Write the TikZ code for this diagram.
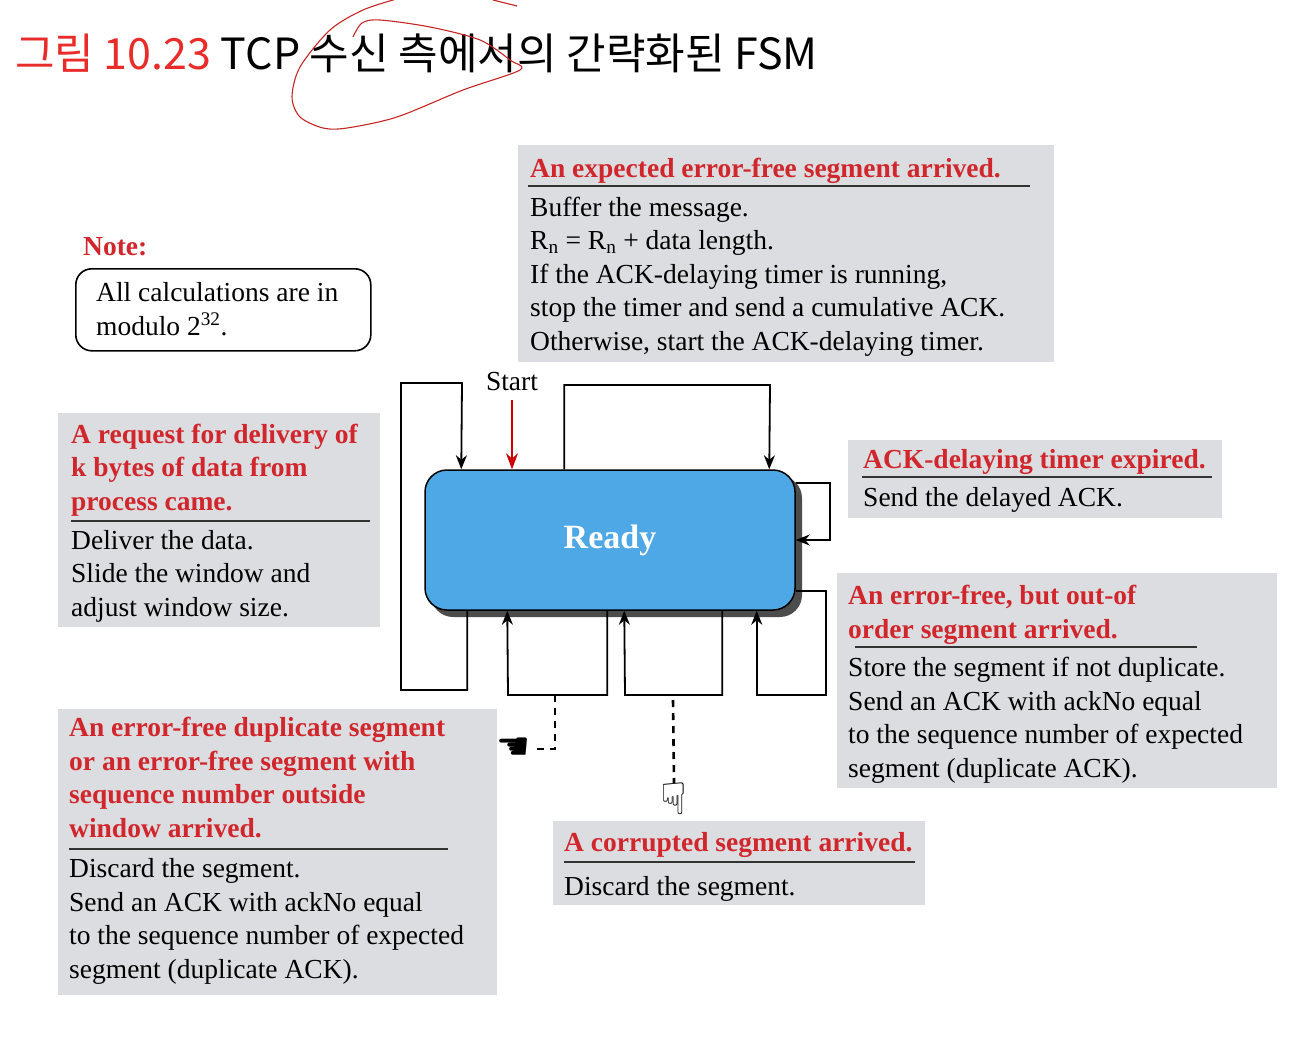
\documentclass[tikz,border=0pt]{standalone}
\usepackage{fontspec}
\setmainfont{Liberation Serif}
\newfontfamily\kofont{Noto Sans CJK KR}
\newfontfamily\symfont{DejaVu Sans}
\usepackage{xcolor}
\usepackage{tikz}
\usetikzlibrary{
	arrows.meta,positioning
}
\definecolor{titlered}{RGB}{232,44,42}
\definecolor{headred}{RGB}{208,38,44}
\definecolor{panelgray}{RGB}{220,221,224}
\definecolor{readyblue}{RGB}{77,168,229}
\newcommand{\txtbody}{\fontsize{27.5}{33.4}\selectfont}
\newcommand{\txthead}{\fontsize{27.5}{33.4}\selectfont\bfseries}
\newcommand{\txttitle}{\kofont\fontsize{43}{50}\selectfont}
\tikzset{
	panel/.style={fill=panelgray, anchor=north west, inner sep=0pt},
	head/.style={anchor=base west, inner sep=0pt, align=left, text=headred, font=\txthead},
	body/.style={anchor=base west, inner sep=0pt, align=left, font=\txtbody},
	rule/.style={line width=1.4pt, black!80},
	loop/.style={line width=1.8pt, -{Stealth[length=14pt,width=11pt]}},
	tap/.style={line width=2.6pt, dash pattern=on 7pt off 6pt},
}

\begin{document}
\begin{tikzpicture}[x=1pt,y=-1pt]
	\useasboundingbox (0,0) rectangle (1300,1044);
	%
	\node[anchor=base west, inner sep=0pt, font=\txttitle] (title) at (15,69)
		{\textcolor{titlered}{그림 10.23} TCP 수신 측에서의 간략화된 FSM};
	\draw[titlered!85!black, line width=1.1pt] plot[smooth] coordinates {(400,-2) (363,10) (330,30) (300,67) (292,97) (300,117) (323,128) (347,128) (397,117) (463,90) (520,70) (510,60) (480,40) (430,27) (380,20) (362,23) (353,37)};
	\draw[titlered!85!black, line width=1.1pt] (493,0) -- (517,6);
	%
	% note (multi-line nodes sit on their last baseline)
	\node[head] (noteHead) at (83,255) {Note:};
	\node[draw, line width=1.6pt, rounded corners=16pt, anchor=north west, minimum width=295pt, minimum height=82pt, inner sep=0pt] (noteBox) at (75,268) {};
	\node[body] (noteText) at (96,335) {All calculations are in\\modulo 2\textsuperscript{32}.};
	%
	% panels
	\node[panel, minimum width=536pt, minimum height=217pt] (pExp) at (518,145) {};
	\node[head] (hExp) at (530,177) {An expected error-free segment arrived.};
	\draw[rule] (528,186) -- (1030,186);
	\node[body] (bExp) at (530,350) {Buffer the message.\\R\textsubscript{n} = R\textsubscript{n} + data length.\\If the ACK-delaying timer is running,\\stop the timer and send a cumulative ACK.\\Otherwise, start the ACK-delaying timer.};
	%
	\node[panel, minimum width=322pt, minimum height=214pt] (pDeliver) at (58,413) {};
	\node[head] (hDeliver) at (71,510) {A request for delivery of\\k bytes of data from\\process came.};
	\draw[rule] (71,521) -- (370,521);
	\node[body] (bDeliver) at (71,616) {Deliver the data.\\Slide the window and\\adjust window size.};
	%
	\node[panel, minimum width=374pt, minimum height=78pt] (pTimer) at (848,440) {};
	\node[head] (hTimer) at (863,468) {ACK-delaying timer expired.};
	\draw[rule] (862,477) -- (1212,477);
	\node[body] (bTimer) at (863,506) {Send the delayed ACK.};
	%
	\node[panel, minimum width=440pt, minimum height=215pt] (pOrder) at (837,573) {};
	\node[head] (hOrder) at (848,638) {An error-free, but out-of\\order segment arrived.};
	\draw[rule] (855,647) -- (1197,647);
	\node[body] (bOrder) at (848,777) {Store the segment if not duplicate.\\Send an ACK with ackNo equal\\to the sequence number of expected\\segment (duplicate ACK).};
	%
	\node[panel, minimum width=439pt, minimum height=286pt] (pDup) at (58,709) {};
	\node[head] (hDup) at (69,837) {An error-free duplicate segment\\or an error-free segment with\\sequence number outside\\window arrived.};
	\draw[rule] (69,849) -- (448,849);
	\node[body] (bDup) at (69,978) {Discard the segment.\\Send an ACK with ackNo equal\\to the sequence number of expected\\segment (duplicate ACK).};
	%
	\node[panel, minimum width=372pt, minimum height=84pt] (pBad) at (553,821) {};
	\node[head] (hBad) at (564,851) {A corrupted segment arrived.};
	\draw[rule] (564,862) -- (915,862);
	\node[body] (bBad) at (564,895) {Discard the segment.};
	%
	% state
	\fill[black!70, rounded corners=22pt] (431,476) rectangle (802,617);
	\node[draw, line width=1.5pt, fill=readyblue, rounded corners=22pt, minimum width=370pt, minimum height=140pt, inner sep=0pt, text=white, font=\fontsize{34}{40}\selectfont\bfseries] (ready) at (610,540) {Ready};
	%
	\node[anchor=base, inner sep=0pt, font=\txtbody] (start) at (512,390) {Start};
	\draw[line width=2.2pt, red!80!black, -{Stealth[length=16pt,width=12pt]}] ([yshift=-10pt]start.south) -- (ready.north -| start);
	%
	\draw[loop] ([xshift=43pt]ready.south west) |- (401,690) |- (462,383) -- ([xshift=37pt]ready.north west);
	\draw[loop] ([xshift=140pt]ready.north west) |- (770,385) -- ([xshift=345pt]ready.north west);
	\draw[loop] ([yshift=-14pt]ready.north east) -| (830,540) -- (ready.east);
	\draw[loop] ([xshift=183pt]ready.south west) |- (508,695) -- ([xshift=83pt]ready.south west);
	\draw[loop] ([xshift=298pt]ready.south west) |- (625,695) -- ([xshift=200pt]ready.south west);
	\draw[loop] ([yshift=20pt]ready.south east) -| (826,695) -| ([xshift=-39pt]ready.south east);
	%
	\coordinate (dupTap) at (555,695);
	\coordinate (badTap) at (673,700);
	\node[inner sep=0pt, font=\symfont\fontsize{38}{42}\selectfont] (dupHand) at (514,749) {☚};
	\node[inner sep=0pt, font=\symfont\fontsize{44}{48}\selectfont] (badHand) at (674,799) {☟};
	\draw[tap] (dupTap) |- (dupHand.east);
	\draw[tap] (badTap) -- (badHand.north);
\end{tikzpicture}
\end{document}
